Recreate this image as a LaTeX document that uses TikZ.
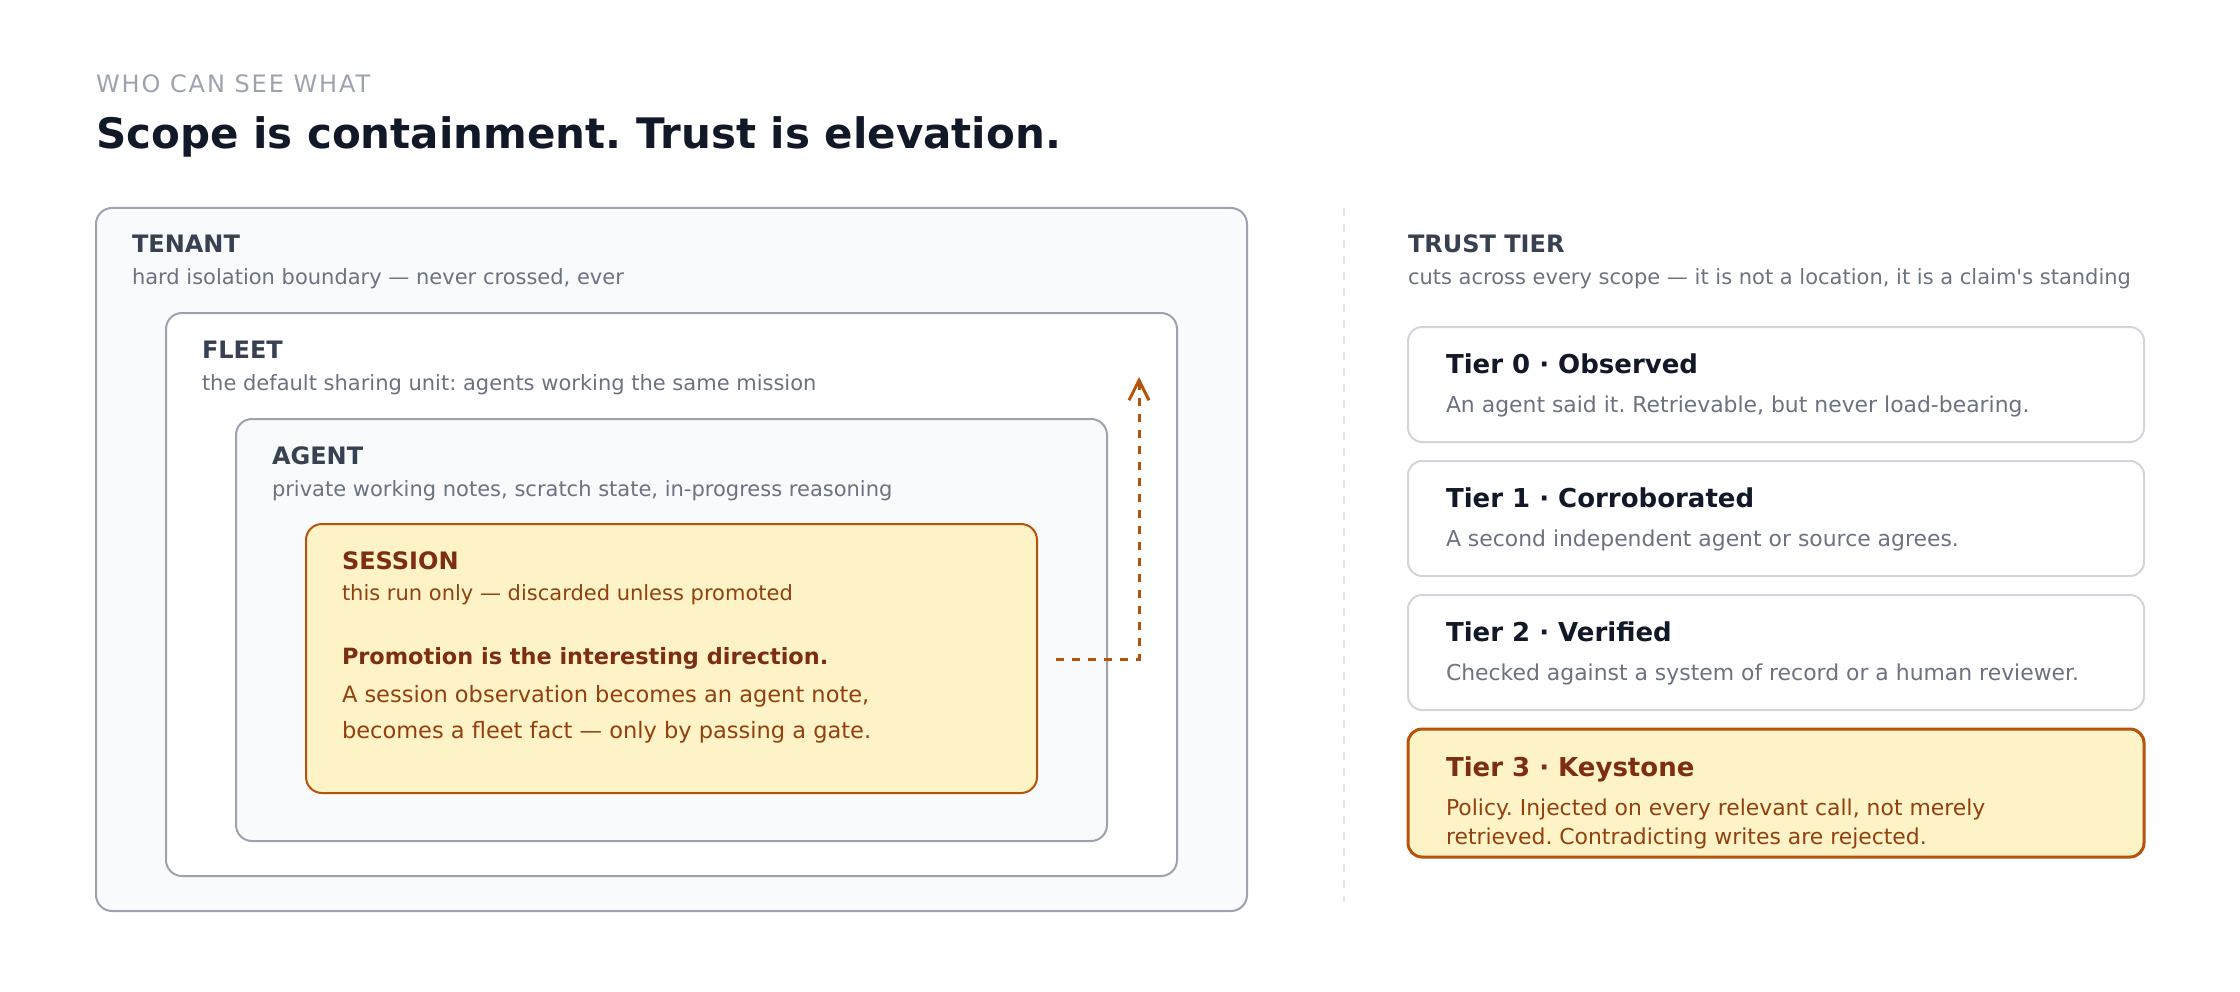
\documentclass[tikz,border=0pt]{standalone}
\usepackage{fontspec}
\setmainfont{DejaVu Sans}[Ligatures=TeXOff]
\newfontfamily\kickerfont[LetterSpace=8]{DejaVu Sans}
\usepackage{xcolor}
\definecolor{InkDark}{RGB}{17,24,39}
\definecolor{HeadSlate}{RGB}{55,65,81}
\definecolor{SubGray}{RGB}{107,114,128}
\definecolor{KickerGray}{RGB}{156,163,175}
\definecolor{BorderGray}{RGB}{156,163,175}
\definecolor{TierBorder}{RGB}{209,213,219}
\definecolor{PanelFill}{RGB}{248,250,252}
\definecolor{DividerGray}{RGB}{229,231,235}
\definecolor{AmberFill}{RGB}{254,243,199}
\definecolor{AmberLine}{RGB}{180,83,9}
\definecolor{AmberHead}{RGB}{124,45,18}
\definecolor{AmberText}{RGB}{146,64,14}
\usetikzlibrary{positioning}
\usetikzlibrary{calc}
\usetikzlibrary{arrows.meta}
\frenchspacing

\begin{document}
\begin{tikzpicture}[
      , x=1pt, y=-1pt
      , scope-box/.style={draw=BorderGray, line width=2pt, rounded corners=16pt, inner sep=0pt, outer sep=0pt, anchor=north west}
      , tier-box/.style={draw=TierBorder, fill=white, line width=2pt, rounded corners=14pt, inner sep=0pt, outer sep=0pt, anchor=north west, minimum width=736pt, minimum height=115pt}
      , txt/.style={anchor=base west, inner sep=0pt, outer sep=0pt}
      , scope-head/.style={txt, color=HeadSlate, font=\fontsize{24}{28}\selectfont\bfseries}
      , scope-sub/.style={txt, color=SubGray, font=\fontsize{21}{25}\selectfont}
      , session-lead/.style={txt, color=AmberHead, font=\fontsize{22.4}{26}\selectfont\bfseries}
      , session-body/.style={txt, color=AmberText, font=\fontsize{22.5}{26}\selectfont}
      , tier-title/.style={txt, color=InkDark, font=\fontsize{26}{30}\selectfont\bfseries}
      , tier-text/.style={txt, color=SubGray, font=\fontsize{21.9}{26}\selectfont}
      ]

      \useasboundingbox (0,0) rectangle (2240,992);

      \node[txt, color=KickerGray, font=\kickerfont\fontsize{24}{28}\selectfont] (kicker) at (96,92.7) {WHO CAN SEE WHAT};
      \node[txt, color=InkDark, font=\fontsize{42}{50}\selectfont\bfseries] (headline) at (96,148.3) {Scope is containment. Trust is elevation.};

      \node[scope-box, fill=PanelFill, minimum width=1151pt, minimum height=703pt] (tenant) at (96,208) {};
      \node[scope-head] (tenant-head) at ($ (tenant.north west)+(36,45) $) {TENANT};
      \node[scope-sub] (tenant-sub) at ($ (tenant.north west)+(36,77) $) {hard isolation boundary — never crossed, ever};

      \node[scope-box, fill=white, minimum width=1011pt, minimum height=563pt] (fleet) at ($ (tenant.north west)+(70,105) $) {};
      \node[scope-head] (fleet-head) at ($ (fleet.north west)+(36,45) $) {FLEET};
      \node[scope-sub] (fleet-sub) at ($ (fleet.north west)+(36,77) $) {the default sharing unit: agents working the same mission};

      \node[scope-box, fill=PanelFill, minimum width=871pt, minimum height=422pt] (agent) at ($ (fleet.north west)+(70,106) $) {};
      \node[scope-head] (agent-head) at ($ (agent.north west)+(36,45) $) {AGENT};
      \node[scope-sub] (agent-sub) at ($ (agent.north west)+(36,77) $) {private working notes, scratch state, in-progress reasoning};

      \node[scope-box, draw=AmberLine, fill=AmberFill, minimum width=731pt, minimum height=269pt] (session) at ($ (agent.north west)+(70,105) $) {};
      \node[scope-head, color=AmberHead] (session-head) at ($ (session.north west)+(36,45) $) {SESSION};
      \node[scope-sub, color=AmberText] (session-sub) at ($ (session.north west)+(36,76) $) {this run only — discarded unless promoted};
      \node[session-lead] (session-lead) at ($ (session.north west)+(36,140) $) {Promotion is the interesting direction.};
      \node[session-body] (session-line1) at ($ (session.north west)+(36,178) $) {A session observation becomes an agent note,};
      \node[session-body] (session-line2) at ($ (session.north west)+(36,214) $) {becomes a fleet fact — only by passing a gate.};

      \coordinate (promote-from) at ($ (session.north east)+(19,135) $);
      \coordinate (promote-to) at ($ (fleet.north east)+(-38,64) $);
      \draw[-{Straight Barb[length=20pt, width=20pt]}, color=AmberLine, line width=3pt, dash pattern=on 8pt off 8pt] (promote-from) -| (promote-to);

      \coordinate (divider-top) at (1344,208);
      \coordinate (divider-bottom) at (1344,902);
      \draw[color=DividerGray, line width=2pt, dash pattern=on 8pt off 8pt] (divider-top) -- (divider-bottom);

      \node[scope-head] (trust-head) at (1408,252.3) {TRUST TIER};
      \node[scope-sub] (trust-sub) at (1408,284) {cuts across every scope — it is not a location, it is a claim's standing};

      \node[tier-box] (tier-0) at (1408,327) {};
      \node[tier-title] (tier-0-title) at ($ (tier-0.north west)+(38,46.5) $) {Tier 0 · Observed};
      \node[tier-text] (tier-0-text) at ($ (tier-0.north west)+(38,85.5) $) {An agent said it. Retrievable, but never load-bearing.};

      \node[tier-box, below=19pt of tier-0.south west, anchor=north west] (tier-1) {};
      \node[tier-title] (tier-1-title) at ($ (tier-1.north west)+(38,46.5) $) {Tier 1 · Corroborated};
      \node[tier-text] (tier-1-text) at ($ (tier-1.north west)+(38,85.5) $) {A second independent agent or source agrees.};

      \node[tier-box, below=19pt of tier-1.south west, anchor=north west] (tier-2) {};
      \node[tier-title] (tier-2-title) at ($ (tier-2.north west)+(38,46.5) $) {Tier 2 · Verified};
      \node[tier-text] (tier-2-text) at ($ (tier-2.north west)+(38,85.5) $) {Checked against a system of record or a human reviewer.};

      \node[tier-box, draw=AmberLine, fill=AmberFill, line width=3pt, minimum height=128pt, below=19pt of tier-2.south west, anchor=north west] (tier-3) {};
      \node[tier-title, color=AmberHead] (tier-3-title) at ($ (tier-3.north west)+(38,47.4) $) {Tier 3 · Keystone};
      \node[tier-text, color=AmberText] (tier-3-line1) at ($ (tier-3.north west)+(38,86.4) $) {Policy. Injected on every relevant call, not merely};
      \node[tier-text, color=AmberText] (tier-3-line2) at ($ (tier-3.north west)+(38,115) $) {retrieved. Contradicting writes are rejected.};
    \end{tikzpicture}
\end{document}
